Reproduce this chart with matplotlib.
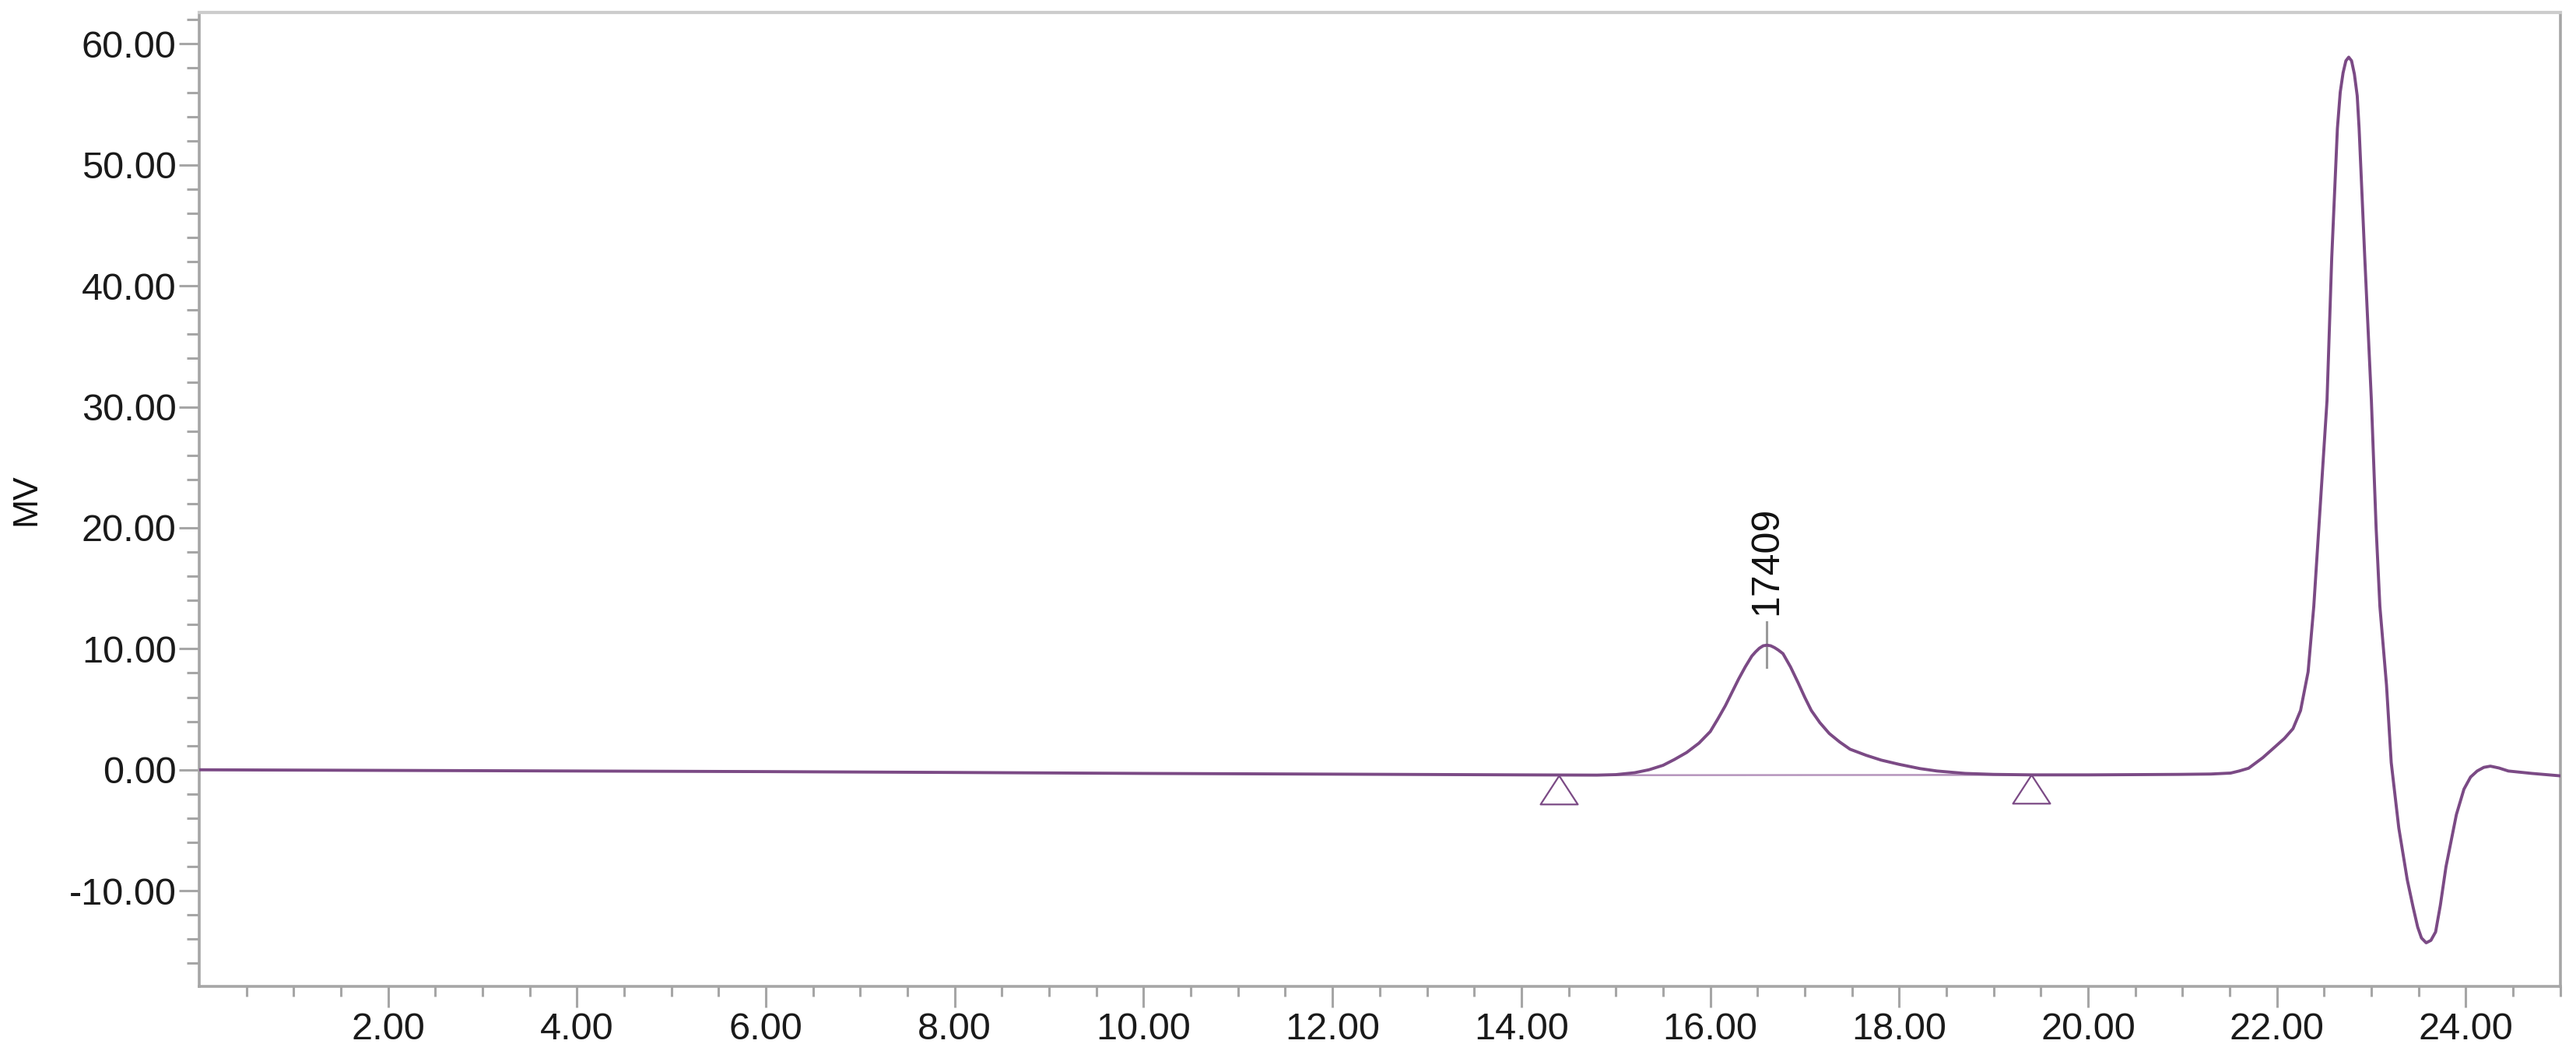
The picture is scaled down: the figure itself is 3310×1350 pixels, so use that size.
import numpy as np
import matplotlib
matplotlib.use('Agg')
import matplotlib.pyplot as plt
from matplotlib.ticker import MultipleLocator, FixedLocator

plt.rcParams['font.family'] = ['Liberation Sans', 'DejaVu Sans']

# chromatogram (time in min, signal in MV)
time = [0.0, 2.0, 4.0, 6.0, 8.0, 10.0, 12.0, 14.0, 14.8, 15.0, 15.2, 15.35,
        15.5, 15.62, 15.75, 15.88, 16.0, 16.08, 16.16, 16.23, 16.30, 16.37,
        16.44, 16.48, 16.52, 16.56, 16.60, 16.64, 16.68, 16.72, 16.77, 16.85,
        16.93, 17.0, 17.07, 17.16, 17.26, 17.37, 17.48, 17.65, 17.81, 18.0,
        18.22, 18.4, 18.7, 19.0, 19.4, 20.0, 20.5, 20.96, 21.3, 21.51,
        21.60, 21.70, 21.85, 21.98, 22.08, 22.17, 22.25, 22.33, 22.39, 22.46,
        22.53, 22.58, 22.64, 22.67, 22.70, 22.73, 22.76, 22.79, 22.82, 22.85,
        22.87, 22.93, 23.00, 23.05, 23.09, 23.16, 23.21, 23.29, 23.38, 23.44,
        23.49, 23.53, 23.58, 23.63, 23.68, 23.73, 23.79, 23.90, 23.98, 24.05,
        24.12, 24.19, 24.26, 24.35, 24.45, 24.7, 25.0]
signal = [0.00, -0.05, -0.10, -0.15, -0.22, -0.30, -0.36, -0.42, -0.44, -0.40,
          -0.24, 0.0, 0.37, 0.85, 1.43, 2.2, 3.16, 4.2, 5.3, 6.4, 7.5, 8.5,
          9.4, 9.75, 10.05, 10.25, 10.3, 10.25, 10.1, 9.9, 9.6, 8.5,
          7.2, 6.0, 4.9, 3.9, 3.0, 2.3, 1.7, 1.2, 0.8, 0.45,
          0.1, -0.1, -0.3, -0.38, -0.42, -0.42, -0.40, -0.38, -0.35, -0.27,
          -0.1, 0.13, 1.0, 1.9, 2.6, 3.4, 4.9, 8.1, 13.5, 22.0,
          30.5, 42.3, 53.0, 56.0, 57.6, 58.6, 58.9, 58.6, 57.5, 55.7,
          53.0, 42.3, 30.5, 20.0, 13.5, 7.0, 0.6, -4.8, -9.1, -11.3,
          -13.0, -13.9, -14.3, -14.1, -13.4, -11.2, -8.0, -3.7, -1.6, -0.6,
          -0.1, 0.2, 0.3, 0.15, -0.1, -0.3, -0.5]

# integration marks
peak_start = 14.40
peak_end = 19.40
base_start = -0.45
base_end = -0.42
peak_time = 16.60
peak_top = 10.3
peak_label = '17409'

line_col = '#7b4a85'
axis_col = '#a6a6a6'

fig = plt.figure(figsize=(33.1, 13.5), dpi=100)
ax = fig.add_axes([0.0773, 0.0615, 0.9166, 0.9267])

ax.plot(time, signal, color=line_col, lw=2.8, solid_joinstyle='round', zorder=3)

# baseline between the two triangles
ax.plot([peak_start, peak_end], [base_start, base_end], color='#b594bc', lw=1.8, zorder=2)
tri = [(0, 0), (-0.65, -1), (0.65, -1), (0, 0)]
ax.plot([peak_start, peak_end], [base_start, base_end], ls='none', marker=tri,
        markersize=53, mfc='white', mec=line_col, mew=1.6, zorder=4)

# peak label with its little gray tick
ax.plot([peak_time, peak_time], [peak_top - 1.8, peak_top + 1.9], color='#9a9a9a', lw=2.2, zorder=2)
ax.text(peak_time, peak_top + 2.5, peak_label, rotation=90, ha='center', va='bottom',
        fontsize=36, color='#111111')

ax.set_xlim(0, 25)
ax.set_ylim(-17.9, 62.6)

ax.xaxis.set_major_locator(FixedLocator(np.arange(2, 25, 2)))
ax.xaxis.set_minor_locator(FixedLocator([v for v in np.arange(0.5, 25.01, 0.5) if v % 2 != 0]))
ax.yaxis.set_major_locator(MultipleLocator(10))
ax.yaxis.set_minor_locator(MultipleLocator(2))
ax.xaxis.set_major_formatter(plt.FuncFormatter(lambda v, p: '%.2f' % v))
ax.yaxis.set_major_formatter(plt.FuncFormatter(lambda v, p: '%.2f' % v))

ax.tick_params(axis='both', which='both', direction='out', color=axis_col, width=2.2,
               labelsize=35, labelcolor='#1a1a1a')
ax.tick_params(axis='y', which='major', length=19, pad=2)
ax.tick_params(axis='y', which='minor', length=11.5)
ax.tick_params(axis='x', which='major', length=19.5, pad=4)
ax.tick_params(axis='x', which='minor', length=9.5)

for s in ['left', 'bottom', 'right']:
    ax.spines[s].set_color(axis_col)
    ax.spines[s].set_linewidth(2.6)
ax.spines['top'].set_color('#cccccc')
ax.spines['top'].set_linewidth(3)

fig.text(34 / 3310, 0.525, 'MV', rotation=90, ha='center', va='center',
         fontsize=32, color='#111111')

fig.savefig('out.png', dpi=100, facecolor='white')
